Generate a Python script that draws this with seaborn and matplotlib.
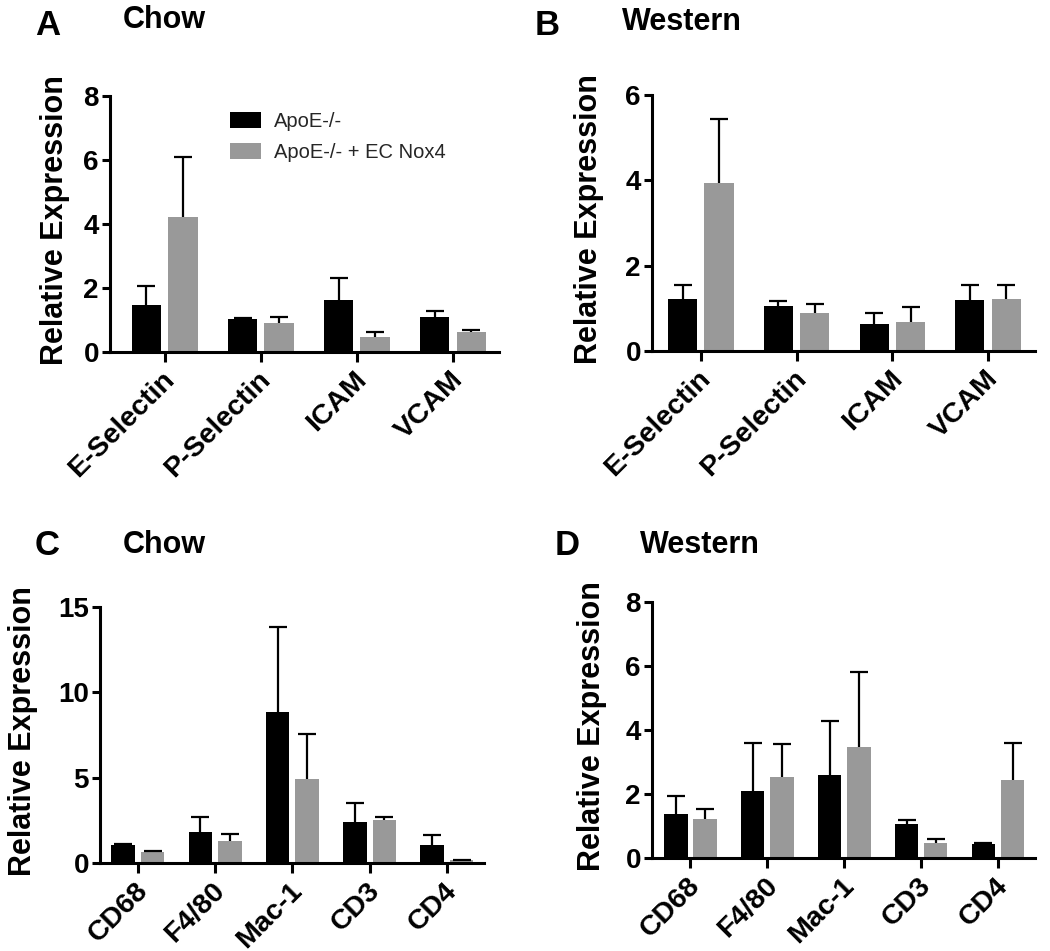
import matplotlib
matplotlib.use("Agg")
import matplotlib.pyplot as plt
import matplotlib.transforms as mtransforms
import seaborn as sns
import pandas as pd

# ---------------- data ----------------
adhesion = ["E-Selectin", "P-Selectin", "ICAM", "VCAM"]
immune = ["CD68", "F4/80", "Mac-1", "CD3", "CD4"]
groups = ["ApoE-/-", "ApoE-/- + EC Nox4"]

a_ctrl = [1.47, 1.03, 1.63, 1.10]
a_ctrl_err = [0.59, 0.03, 0.69, 0.18]
a_nox = [4.22, 0.90, 0.48, 0.63]
a_nox_err = [1.88, 0.20, 0.13, 0.06]

b_ctrl = [1.22, 1.05, 0.63, 1.20]
b_ctrl_err = [0.33, 0.12, 0.26, 0.35]
b_nox = [3.93, 0.90, 0.68, 1.23]
b_nox_err = [1.50, 0.20, 0.35, 0.32]

c_ctrl = [1.07, 1.84, 8.87, 2.42, 1.05]
c_ctrl_err = [0.03, 0.87, 4.98, 1.08, 0.59]
c_nox = [0.64, 1.29, 4.92, 2.52, 0.17]
c_nox_err = [0.08, 0.39, 2.64, 0.19, 0.03]

d_ctrl = [1.38, 2.08, 2.58, 1.06, 0.44]
d_ctrl_err = [0.55, 1.51, 1.69, 0.14, 0.03]
d_nox = [1.22, 2.53, 3.46, 0.47, 2.45]
d_nox_err = [0.32, 1.03, 2.34, 0.13, 1.14]

# ---------------- style ----------------
sns.set_theme(style="ticks")
plt.rcParams["font.family"] = ["Liberation Sans", "DejaVu Sans"]

W, H = 1050, 951
BLACK = "#000000"
GRAY = "#999999"
fig = plt.figure(figsize=(W / 100, H / 100), dpi=100)


def panel(rect, cats, ctrl, ctrl_err, nox, nox_err, ymax, yticks, xlim,
          label_x, legend=False):
    l, t, r, b = rect
    ax = fig.add_axes([l / W, 1 - b / H, (r - l) / W, (b - t) / H])
    df = pd.DataFrame({
        "gene": cats * 2,
        "group": [groups[0]] * len(cats) + [groups[1]] * len(cats),
        "value": ctrl + nox,
    })
    sns.barplot(data=df, x="gene", y="value", hue="group", order=cats,
                hue_order=groups, palette=[BLACK, GRAY], width=0.76, gap=0.2,
                errorbar=None, saturation=1, linewidth=0, ax=ax, legend=False)
    for cont, errs in zip(ax.containers, [ctrl_err, nox_err]):
        for bar in cont:
            xc = bar.get_x() + bar.get_width() / 2
            idx = int(round(xc))
            h = bar.get_height()
            _, caps, _ = ax.errorbar(xc, h, yerr=[[0], [errs[idx]]], fmt="none",
                                     ecolor="black", elinewidth=1.6,
                                     capsize=6.5, capthick=1.6, zorder=1)
            if len(caps) > 1:
                caps[0].set_visible(False)
    ax.set_ylim(0, ymax)
    ax.set_yticks(yticks)
    ax.set_xlim(*xlim)
    sns.despine(ax=ax)
    for s in ["left", "bottom"]:
        ax.spines[s].set_linewidth(2.2)
        ax.spines[s].set_color("black")
    ax.tick_params(axis="y", length=6, width=2.2, pad=2, labelsize=20,
                   colors="black")
    ax.tick_params(axis="x", length=7, width=2.2, pad=2, labelsize=20.5,
                   colors="black")
    for lab in ax.get_yticklabels():
        lab.set_fontweight("bold")
    offset = mtransforms.ScaledTranslation(6 / 100, -11 / 100, fig.dpi_scale_trans)
    for lab in ax.get_xticklabels():
        lab.set_fontweight("bold")
        lab.set_rotation(45)
        lab.set_ha("right")
        lab.set_va("center")
        lab.set_rotation_mode("anchor")
        lab.set_transform(lab.get_transform() + offset)
    ax.set_xlabel("")
    ax.set_ylabel("Relative Expression", fontsize=22, fontweight="bold",
                  color="black")
    ax.yaxis.set_label_coords((label_x - l) / (r - l), 0.515)
    if legend:
        handles = [ax.containers[0].patches[0], ax.containers[1].patches[0]]
        ax.legend(handles, groups, loc="upper left",
                  bbox_to_anchor=((230 - l) / (r - l), 1 - (112 - t) / (b - t)),
                  frameon=False, fontsize=14.5, handlelength=1.55,
                  handleheight=0.85, handletextpad=0.65, labelspacing=0.6,
                  borderpad=0, borderaxespad=0)
    return ax


panel((110, 96, 499, 352), adhesion, a_ctrl, a_ctrl_err, a_nox, a_nox_err,
      8, [0, 2, 4, 6, 8], (-0.57, 3.48), 70, legend=True)
panel((652, 95, 1035, 351), adhesion, b_ctrl, b_ctrl_err, b_nox, b_nox_err,
      6, [0, 2, 4, 6], (-0.51, 3.49), 604)
panel((100, 607, 484, 863), immune, c_ctrl, c_ctrl_err, c_nox, c_nox_err,
      15, [0, 5, 10, 15], (-0.49, 4.48), 38)
panel((652, 602, 1035, 858), immune, d_ctrl, d_ctrl_err, d_nox, d_nox_err,
      8, [0, 2, 4, 6, 8], (-0.5, 4.48), 607)


def title(x, y, s, size):
    fig.text(x / W, 1 - y / H, s, fontsize=size, fontweight="bold",
             ha="left", va="baseline", color="black")


title(35, 35, "A", 25)
title(123, 28, "Chow", 22)
title(535, 35, "B", 25)
title(622, 30, "Western", 22)
title(35, 555, "C", 25)
title(123, 553, "Chow", 22)
title(555, 555, "D", 25)
title(640, 553, "Western", 22)

fig.savefig("out.png", dpi=100)
